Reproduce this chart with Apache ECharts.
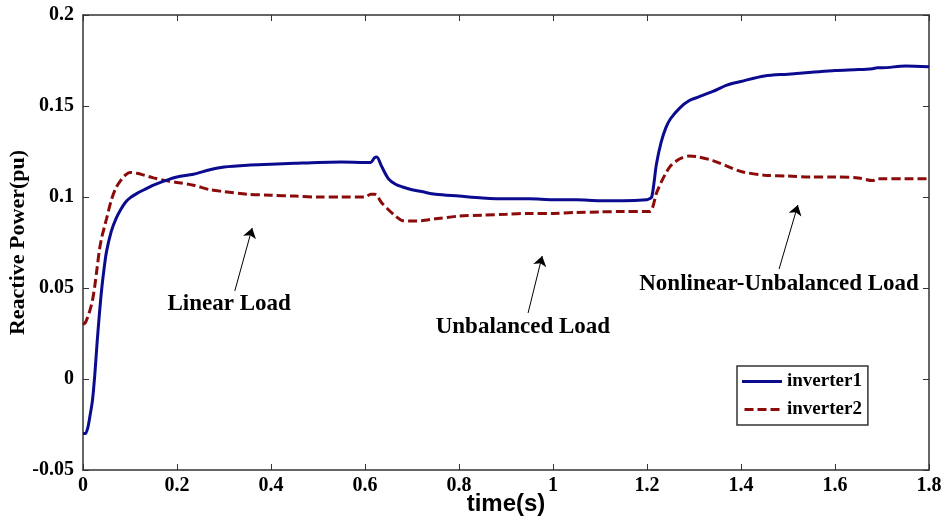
<!DOCTYPE html>
<html>
<head>
<meta charset="utf-8">
<script src="https://cdn.jsdelivr.net/npm/echarts@6/dist/echarts.min.js"></script>
<style>
html,body{margin:0;padding:0;background:#fff;}
#c{width:946px;height:519px;}
</style>
</head>
<body>
<div id="c"></div>
<script>
var time = [0,0.005,0.01,0.015,0.02,0.025,0.03,0.035,0.04,0.045,0.05,0.06,0.07,0.08,0.09,0.1,0.115,0.13,0.15,0.175,0.2,0.235,0.27,0.3,0.35,0.4,0.45,0.5,0.55,0.6,0.612,0.62,0.625,0.635,0.65,0.665,0.68,0.7,0.72,0.75,0.8,0.85,0.9,0.95,1.0,1.05,1.1,1.15,1.2,1.205,1.21,1.215,1.22,1.23,1.24,1.25,1.27,1.29,1.31,1.34,1.37,1.4,1.45,1.5,1.55,1.6,1.65,1.68,1.69,1.7,1.75,1.8];
var inverter1 = [-0.030,-0.030,-0.027,-0.020,-0.012,0.002,0.020,0.036,0.050,0.061,0.070,0.081,0.088,0.093,0.097,0.0995,0.102,0.104,0.1065,0.109,0.111,0.1125,0.115,0.1165,0.1175,0.118,0.1185,0.119,0.1192,0.119,0.119,0.1215,0.122,0.117,0.110,0.107,0.1055,0.104,0.103,0.1015,0.1005,0.0995,0.099,0.099,0.0985,0.0985,0.098,0.098,0.0985,0.099,0.100,0.108,0.118,0.130,0.138,0.143,0.149,0.153,0.155,0.158,0.1615,0.1635,0.1665,0.1675,0.1685,0.1695,0.170,0.1705,0.171,0.171,0.172,0.1715];
var inverter2 = [0.030,0.031,0.034,0.038,0.043,0.051,0.061,0.071,0.078,0.083,0.088,0.098,0.105,0.109,0.112,0.1135,0.113,0.112,0.1105,0.109,0.108,0.1065,0.104,0.103,0.1015,0.101,0.1005,0.100,0.100,0.100,0.1015,0.1015,0.101,0.097,0.093,0.0895,0.087,0.0868,0.087,0.088,0.0895,0.090,0.0905,0.091,0.091,0.0915,0.0918,0.092,0.092,0.092,0.093,0.097,0.102,0.108,0.113,0.117,0.121,0.1225,0.122,0.120,0.117,0.114,0.112,0.1115,0.111,0.111,0.1105,0.109,0.110,0.110,0.110,0.110];
var seriesNames = ['inverter1','inverter2'];
var annotationTexts = ['Linear Load','Unbalanced Load','Nonlinear-Unbalanced Load'];
var annotationTextPos = [[0.311,0.0412],[0.936,0.0286],[1.481,0.0522]];
var arrowTails = [[0.323,0.0484],[0.947,0.0363],[1.481,0.0604]];
var arrowHeads = [[0.360,0.083],[0.977,0.0676],[1.521,0.0956]];

function pairs(xs, ys){ return xs.map(function(x,i){return [x, ys[i]];}); }

var serif = '"Liberation Serif","Times New Roman",serif';
var axisColor = '#333';
var solidIcon = 'path://M0,0H40V3H0Z';
var dashIcon = 'path://M0,0H9V3H0Z M13,0H22V3H13Z M26,0H35V3H26Z';

var chart = echarts.init(document.getElementById('c'), null, {renderer:'canvas'});
var option = {
  animation:false,
  backgroundColor:'#fff',
  grid:{left:83,right:17,top:15,bottom:49,containLabel:false,outerBoundsMode:'none'},
  legend:{
    data:[{name:seriesNames[0], icon:solidIcon},{name:seriesNames[1], icon:dashIcon}],
    orient:'vertical',
    left:737, top:366,
    padding:[6,6,6,5],
    itemGap:9,
    itemWidth:40, itemHeight:3,
    backgroundColor:'#fff',
    borderColor:'#333', borderWidth:1.5,
    textStyle:{fontFamily:serif,fontWeight:'bold',fontSize:19,color:'#000',lineHeight:19}
  },
  xAxis:[{
    type:'value', min:0, max:1.8, interval:0.2,
    name:'time(s)', nameLocation:'middle', nameGap:22, nameMoveOverlap:false,
    nameTextStyle:{fontFamily:'"Liberation Sans Narrow","Liberation Sans",sans-serif',fontWeight:'bold',fontSize:24,color:'#000'},
    axisLine:{show:true,onZero:false,lineStyle:{color:axisColor,width:1.5}},
    axisTick:{show:true,inside:true,length:6,lineStyle:{color:axisColor}},
    axisLabel:{fontFamily:serif,fontWeight:'bold',fontSize:20,color:'#000',margin:6},
    splitLine:{show:false}
  },{
    type:'value', min:0, max:1.8, interval:0.2, position:'top',
    axisLine:{show:true,onZero:false,lineStyle:{color:axisColor,width:1.5}},
    axisTick:{show:true,inside:true,length:6,lineStyle:{color:axisColor}},
    axisLabel:{show:false}, splitLine:{show:false}
  }],
  yAxis:[{
    type:'value', min:-0.05, max:0.2, interval:0.05,
    name:'Reactive Power(pu)', nameLocation:'middle', nameGap:54, nameMoveOverlap:false,
    nameTextStyle:{fontFamily:serif,fontWeight:'bold',fontSize:22,color:'#000'},
    axisLine:{show:true,onZero:false,lineStyle:{color:axisColor,width:1.5}},
    axisTick:{show:true,inside:true,length:6,lineStyle:{color:axisColor}},
    axisLabel:{fontFamily:serif,fontWeight:'bold',fontSize:20,color:'#000',margin:9},
    splitLine:{show:false}
  },{
    type:'value', min:-0.05, max:0.2, interval:0.05, position:'right',
    axisLine:{show:true,onZero:false,lineStyle:{color:axisColor,width:1.5}},
    axisTick:{show:true,inside:true,length:6,lineStyle:{color:axisColor}},
    axisLabel:{show:false}, splitLine:{show:false}
  }],
  series:[{
    name:seriesNames[0], type:'line', data:pairs(time, inverter1),
    showSymbol:false, symbol:'none', smooth:0.3,
    lineStyle:{color:'#0b0b8f',width:3},
    itemStyle:{color:'#0b0b8f'},
    z:3,
    markLine:{
      silent:true, symbol:['none','arrow'], symbolSize:10,
      label:{show:false},
      lineStyle:{color:'#000',width:1,type:'solid'},
      data: arrowTails.map(function(t,i){return [{coord:t},{coord:arrowHeads[i]}];})
    },
    markPoint:{
      silent:true, symbol:'circle', symbolSize:0,
      label:{show:true,position:'inside',formatter:'{b}',fontFamily:serif,fontWeight:'bold',fontSize:23,color:'#000'},
      data: annotationTexts.map(function(s,i){return {name:s, coord:annotationTextPos[i]};})
    }
  },{
    name:seriesNames[1], type:'line', data:pairs(time, inverter2),
    showSymbol:false, symbol:'none', smooth:0.3,
    lineStyle:{color:'#8b0a0a',width:3,type:[9,4]},
    itemStyle:{color:'#8b0a0a'},
    z:2
  }]
};
chart.setOption(option);
</script>
</body>
</html>
